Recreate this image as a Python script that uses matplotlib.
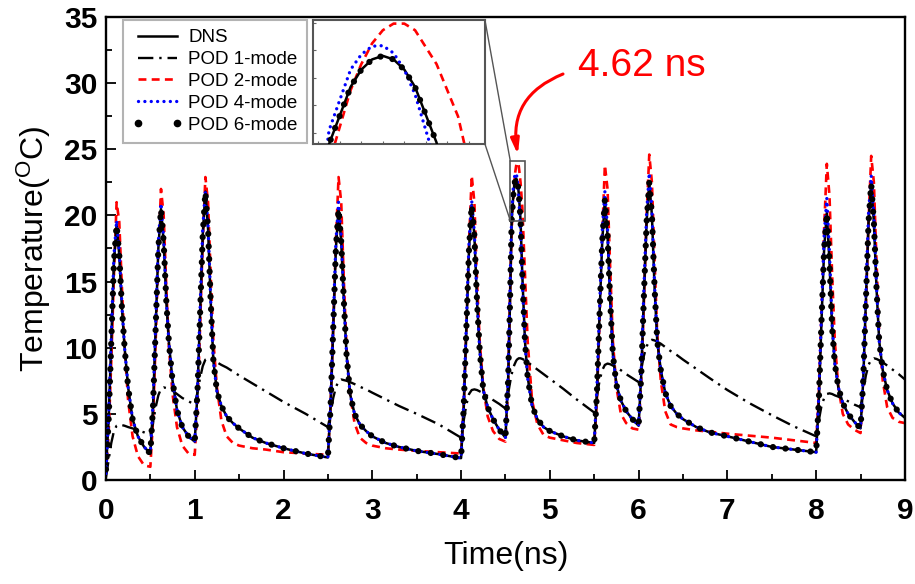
import matplotlib
matplotlib.use("Agg")
import matplotlib.pyplot as plt
from matplotlib.lines import Line2D
from matplotlib.patches import Rectangle, ConnectionPatch

plt.rcParams['font.family'] = ['Liberation Sans', 'DejaVu Sans']
plt.rcParams['mathtext.fontset'] = 'custom'
plt.rcParams['mathtext.rm'] = 'Liberation Sans'

# ---------------- data ----------------
time_ns = [
    0.00, 0.03, 0.06, 0.09, 0.12, 0.15, 0.18, 0.21, 0.25, 0.30, 0.36, 0.43,
    0.50, 0.53, 0.56, 0.59, 0.62, 0.65, 0.68, 0.71, 0.75, 0.80, 0.86, 0.93,
    1.00, 1.03, 1.06, 1.09, 1.12, 1.15, 1.18, 1.21, 1.25, 1.30, 1.36, 1.43, 1.50, 1.65, 1.80, 2.00, 2.25,
    2.50, 2.53, 2.56, 2.59, 2.62, 2.65, 2.68, 2.71, 2.75, 2.80, 2.86, 2.93, 3.00, 3.15, 3.30, 3.50, 3.75,
    4.00, 4.03, 4.06, 4.09, 4.12, 4.15, 4.18, 4.21, 4.25, 4.30, 4.36, 4.43,
    4.50, 4.53, 4.55, 4.57, 4.59, 4.60, 4.61, 4.62, 4.63, 4.64, 4.65, 4.67, 4.69, 4.72, 4.75, 4.80, 4.86, 4.93, 5.00, 5.15, 5.30,
    5.50, 5.53, 5.56, 5.59, 5.62, 5.65, 5.68, 5.71, 5.75, 5.80, 5.86, 5.93,
    6.00, 6.03, 6.06, 6.09, 6.12, 6.15, 6.18, 6.21, 6.25, 6.30, 6.36, 6.43, 6.50, 6.65, 6.80, 7.00, 7.25, 7.50, 7.75,
    8.00, 8.03, 8.06, 8.09, 8.12, 8.15, 8.18, 8.21, 8.25, 8.30, 8.36, 8.43,
    8.50, 8.53, 8.56, 8.59, 8.62, 8.65, 8.68, 8.71, 8.75, 8.80, 8.86, 8.93, 9.00,
]

dns = [
    0.8, 4.5, 10.5, 16.5, 19.3, 17.0, 13.0, 10.0, 7.0, 4.6, 3.3, 2.5,
    2.0, 5.5, 11.5, 17.5, 20.5, 18.0, 13.5, 10.3, 7.5, 5.3, 4.0, 3.3,
    2.9, 6.5, 12.5, 18.5, 21.8, 19.0, 13.5, 9.0, 6.7, 5.6, 4.8, 4.3, 3.9, 3.2, 2.8, 2.4, 2.0,
    1.7, 5.5, 11.5, 17.5, 20.5, 18.0, 13.5, 9.5, 6.5, 5.0, 4.2, 3.7, 3.3, 2.8, 2.5, 2.2, 1.95,
    1.65, 5.5, 11.5, 17.5, 20.8, 18.5, 13.5, 9.8, 6.8, 5.5, 4.6, 3.8,
    3.2, 7.5, 13.0, 19.6, 21.67, 22.3, 22.67, 22.8, 22.67, 22.3, 21.67, 19.65, 15.5, 10.5, 7.8, 5.6, 4.6, 4.0, 3.7, 3.3, 3.0,
    2.8, 6.5, 12.5, 18.0, 21.2, 18.5, 13.5, 9.5, 7.2, 6.0, 5.2, 4.6,
    4.1, 8.0, 14.0, 19.5, 22.5, 20.0, 14.5, 10.5, 8.3, 6.6, 5.6, 5.0, 4.6, 4.0, 3.6, 3.3, 2.9, 2.5, 2.3,
    2.1, 6.0, 12.0, 17.5, 20.2, 16.5, 11.5, 8.8, 7.0, 5.8, 5.0, 4.4,
    3.9, 7.5, 13.5, 19.5, 22.4, 19.5, 14.5, 10.5, 8.3, 6.8, 5.8, 5.1, 4.7,
]

pod1_mode = [
    0.2, 1.5, 2.8, 3.7, 4.1, 4.2, 4.15, 4.1, 4.0, 3.9, 3.75, 3.6,
    3.4, 4.3, 5.5, 6.4, 6.9, 7.0, 6.95, 6.9, 6.75, 6.5, 6.2, 5.95,
    5.7, 6.6, 7.7, 8.6, 9.1, 9.2, 9.15, 9.05, 8.9, 8.7, 8.5, 8.2, 7.9, 7.3, 6.7, 5.9, 5.0,
    4.0, 5.0, 6.2, 7.0, 7.5, 7.6, 7.55, 7.5, 7.4, 7.25, 7.05, 6.85, 6.6, 6.1, 5.6, 5.0, 4.2,
    3.2, 4.5, 5.7, 6.5, 6.8, 6.85, 6.8, 6.7, 6.55, 6.35, 6.05, 5.75,
    5.4, 6.5, 7.3, 8.0, 8.5, 8.7, 8.85, 9.0, 9.1, 9.15, 9.2, 9.2, 9.15, 9.05, 8.9, 8.65, 8.35, 8.0, 7.65, 6.9, 6.1,
    5.1, 6.3, 7.5, 8.3, 8.7, 8.8, 8.75, 8.65, 8.5, 8.3, 8.0, 7.7,
    7.4, 8.4, 9.4, 10.1, 10.5, 10.6, 10.55, 10.45, 10.3, 10.05, 9.75, 9.45, 9.1, 8.4, 7.7, 6.8, 5.8, 4.9, 4.05,
    3.3, 4.5, 5.6, 6.2, 6.5, 6.55, 6.5, 6.4, 6.3, 6.15, 5.95, 5.7,
    5.5, 6.7, 7.9, 8.7, 9.1, 9.2, 9.15, 9.05, 8.9, 8.65, 8.35, 8.0, 7.6,
]

pod2_mode = [
    0.5, 3.5, 9.0, 15.5, 21.0, 19.5, 14.5, 10.0, 6.0, 3.3, 1.8, 1.1,
    1.0, 4.5, 10.5, 17.0, 22.0, 20.0, 14.5, 10.0, 6.5, 4.0, 2.6, 2.0,
    1.9, 5.5, 11.5, 18.0, 22.9, 21.0, 15.5, 10.5, 7.0, 4.5, 3.3, 2.8, 2.6, 2.4, 2.3, 2.1, 2.0,
    1.9, 5.5, 11.5, 18.0, 22.9, 21.0, 15.0, 10.0, 6.5, 4.3, 3.2, 2.8, 2.6, 2.4, 2.3, 2.2, 2.1,
    2.0, 5.5, 11.5, 18.0, 23.0, 21.0, 15.0, 10.5, 7.0, 4.8, 3.7, 3.1,
    2.9, 7.0, 13.5, 18.9, 21.55, 22.5, 23.25, 23.73, 23.97, 23.97, 23.73, 22.5, 20.6, 15.5, 10.5, 6.0, 4.2, 3.4, 3.2, 3.0, 2.8,
    2.65, 6.0, 12.0, 18.5, 23.8, 22.0, 16.0, 10.5, 7.0, 5.0, 4.3, 3.9,
    3.8, 7.5, 13.5, 20.0, 24.6, 22.5, 16.5, 11.0, 7.5, 5.2, 4.2, 4.0, 3.9, 3.75, 3.65, 3.5, 3.35, 3.2, 3.0,
    2.8, 6.5, 12.5, 19.0, 23.9, 21.5, 15.5, 10.5, 7.0, 5.0, 4.2, 3.8,
    3.55, 7.0, 13.0, 19.5, 24.5, 22.5, 16.5, 11.0, 7.5, 5.5, 4.7, 4.4, 4.3,
]

pod4_mode = [
    0.5, 4.8, 11.0, 17.0, 19.6, 17.3, 13.2, 10.0, 7.0, 4.6, 3.3, 2.5,
    2.0, 5.8, 12.0, 18.0, 20.9, 18.3, 13.6, 10.3, 7.5, 5.3, 4.0, 3.3,
    2.9, 6.8, 13.0, 19.0, 21.9, 19.2, 13.6, 9.0, 6.7, 5.6, 4.8, 4.3, 3.9, 3.2, 2.8, 2.4, 2.0,
    1.7, 5.8, 12.0, 18.0, 21.0, 18.4, 13.6, 9.5, 6.5, 5.0, 4.2, 3.7, 3.3, 2.8, 2.5, 2.2, 1.95,
    1.65, 5.8, 12.0, 18.0, 21.1, 18.7, 13.6, 9.8, 6.8, 5.5, 4.6, 3.8,
    3.2, 8.0, 14.0, 20.1, 22.3, 22.85, 23.15, 23.17, 22.9, 22.3, 21.4, 18.8, 15.0, 10.3, 7.7, 5.6, 4.6, 4.0, 3.7, 3.3, 3.0,
    2.8, 7.0, 13.0, 18.8, 21.8, 19.0, 13.7, 9.5, 7.2, 6.0, 5.2, 4.6,
    4.1, 8.4, 14.5, 20.2, 23.2, 20.5, 14.7, 10.5, 8.3, 6.6, 5.6, 5.0, 4.6, 4.0, 3.6, 3.3, 2.9, 2.5, 2.3,
    2.1, 6.4, 12.6, 18.5, 21.3, 17.2, 11.8, 8.8, 7.0, 5.8, 5.0, 4.4,
    3.9, 7.9, 14.0, 20.2, 23.0, 20.0, 14.7, 10.5, 8.3, 6.8, 5.8, 5.1, 4.7,
]

pod6_mode = [
    0.8, 4.5, 10.5, 16.5, 19.3, 17.0, 13.0, 10.0, 7.0, 4.6, 3.3, 2.5,
    2.0, 5.5, 11.5, 17.5, 20.5, 18.0, 13.5, 10.3, 7.5, 5.3, 4.0, 3.3,
    2.9, 6.5, 12.5, 18.5, 21.8, 19.0, 13.5, 9.0, 6.7, 5.6, 4.8, 4.3, 3.9, 3.2, 2.8, 2.4, 2.0,
    1.7, 5.5, 11.5, 17.5, 20.5, 18.0, 13.5, 9.5, 6.5, 5.0, 4.2, 3.7, 3.3, 2.8, 2.5, 2.2, 1.95,
    1.65, 5.5, 11.5, 17.5, 20.8, 18.5, 13.5, 9.8, 6.8, 5.5, 4.6, 3.8,
    3.2, 7.5, 13.0, 19.6, 21.67, 22.3, 22.67, 22.8, 22.67, 22.3, 21.67, 19.65, 15.5, 10.5, 7.8, 5.6, 4.6, 4.0, 3.7, 3.3, 3.0,
    2.8, 6.5, 12.5, 18.0, 21.2, 18.5, 13.5, 9.5, 7.2, 6.0, 5.2, 4.6,
    4.1, 8.0, 14.0, 19.5, 22.5, 20.0, 14.5, 10.5, 8.3, 6.6, 5.6, 5.0, 4.6, 4.0, 3.6, 3.3, 2.9, 2.5, 2.3,
    2.1, 6.0, 12.0, 17.5, 20.2, 16.5, 11.5, 8.8, 7.0, 5.8, 5.0, 4.4,
    3.9, 7.5, 13.5, 19.5, 22.4, 19.5, 14.5, 10.5, 8.3, 6.8, 5.8, 5.1, 4.7,
]

legend_labels = ["DNS", "POD 1-mode", "POD 2-mode", "POD 4-mode", "POD 6-mode"]
x_ticks = [0, 1, 2, 3, 4, 5, 6, 7, 8, 9]
y_ticks = [0, 5, 10, 15, 20, 25, 30, 35]
zoom_t = (4.555, 4.715)
zoom_T = (19.6, 24.1)
annot_text = "4.62 ns"

# ---------------- figure ----------------
fig = plt.figure(figsize=(9.15, 5.84), dpi=100)
ax = fig.add_axes([0.1158, 0.1781, 0.8732, 0.7928])

styles = {
    "dns": dict(color="black", lw=1.8, ls="-", zorder=3),
    "pod2": dict(color="#ff0000", lw=1.9, ls=(0, (3, 2)), zorder=2),
    "pod1": dict(color="black", lw=1.7, ls=(0, (6.5, 2.5, 1, 2.5)), zorder=2.5),
    "pod4": dict(color="#0000ff", lw=2.4, ls=(0, (0.01, 1.9)), dash_capstyle="round", zorder=4),
    "pod6": dict(color="black", lw=4.5, ls=(0, (0.01, 2.0)), dash_capstyle="round", zorder=5),
}


def draw_all(a):
    a.plot(time_ns, dns, **styles["dns"])
    a.plot(time_ns, pod2_mode, **styles["pod2"])
    a.plot(time_ns, pod1_mode, **styles["pod1"])
    a.plot(time_ns, pod4_mode, **styles["pod4"])
    a.plot(time_ns, pod6_mode, **styles["pod6"])


draw_all(ax)

ax.set_xlim(0, 9)
ax.set_ylim(0, 35)
ax.set_xticks(x_ticks)
ax.set_yticks(y_ticks)
ax.set_xticks([v + 0.5 for v in x_ticks[:-1]], minor=True)
ax.set_yticks([v + 2.5 for v in y_ticks[:-1]], minor=True)
ax.tick_params(which="both", direction="in", width=1.3, top=False, right=False)
ax.tick_params(which="major", length=7)
ax.tick_params(which="minor", length=4.5)
ax.tick_params(axis="x", which="major", pad=12)
ax.tick_params(axis="y", which="major", pad=6)
for lab in ax.get_xticklabels() + ax.get_yticklabels():
    lab.set_fontsize(21.5)
    lab.set_fontweight("bold")
for s in ax.spines.values():
    s.set_linewidth(1.7)

ax.set_xlabel("Time(ns)", fontsize=23, labelpad=12)
ax.set_ylabel(r"Temperature($\mathregular{^O}$C)", fontsize=23, labelpad=8)

# legend
handles = [
    Line2D([], [], color="black", lw=1.8, ls="-"),
    Line2D([], [], color="black", lw=1.7, ls=(0, (6.5, 2.5, 1, 2.5))),
    Line2D([], [], color="#ff0000", lw=1.9, ls=(0, (3, 2))),
    Line2D([], [], color="#0000ff", lw=2.4, ls=(0, (0.01, 1.9)), dash_capstyle="round"),
    Line2D([], [], color="black", ls="none", marker="o", ms=4.5),
]
leg = ax.legend(handles, legend_labels, loc="upper left", bbox_to_anchor=(0.021, 0.994),
                borderaxespad=0, fontsize=13.5, frameon=True, fancybox=False,
                handlelength=2.7, handletextpad=0.3, labelspacing=0.25,
                borderpad=0.5, numpoints=2)
leg.get_frame().set_edgecolor("#a0a0a0")
leg.get_frame().set_linewidth(1.5)

# zoom box on main axes
box = Rectangle((zoom_t[0], zoom_T[0]), zoom_t[1] - zoom_t[0], zoom_T[1] - zoom_T[0],
                fill=False, edgecolor="#555555", lw=1.2, zorder=6)
ax.add_patch(box)

# inset
ax_in = fig.add_axes([0.342, 0.7534, 0.188, 0.2123])
draw_all(ax_in)
ax_in.set_xlim(*zoom_t)
ax_in.set_ylim(*zoom_T)
ax_in.set_xticks([4.56 + 0.02 * i for i in range(8)])
ax_in.set_yticks([20, 21, 22, 23, 24])
ax_in.tick_params(direction="in", length=2.5, width=0.8, labelbottom=False, labelleft=False,
                  color="#666666")
for s in ax_in.spines.values():
    s.set_linewidth(1.5)
    s.set_edgecolor("#555555")

for xa, xb in [((1, 1), (zoom_t[0], zoom_T[1])), ((1, 0), (zoom_t[0], zoom_T[0]))]:
    cp = ConnectionPatch(xyA=xa, coordsA=ax_in.transAxes, xyB=xb, coordsB=ax.transData,
                         color="#555555", lw=1.0, zorder=6)
    fig.add_artist(cp)

# annotation
fig.text(578 / 915, 1 - 66 / 584, annot_text, fontsize=28, color="#ff0000",
         va="center", ha="left")
ax.annotate("", xy=(4.64, 24.6), xycoords="data",
            xytext=(563, 584 - 74), textcoords="figure pixels",
            arrowprops=dict(arrowstyle="-|>,head_length=0.9,head_width=0.25", color="#ff0000",
                            lw=2.2, connectionstyle="arc3,rad=0.4", shrinkA=0, shrinkB=0))

fig.savefig("out.png", dpi=100)
